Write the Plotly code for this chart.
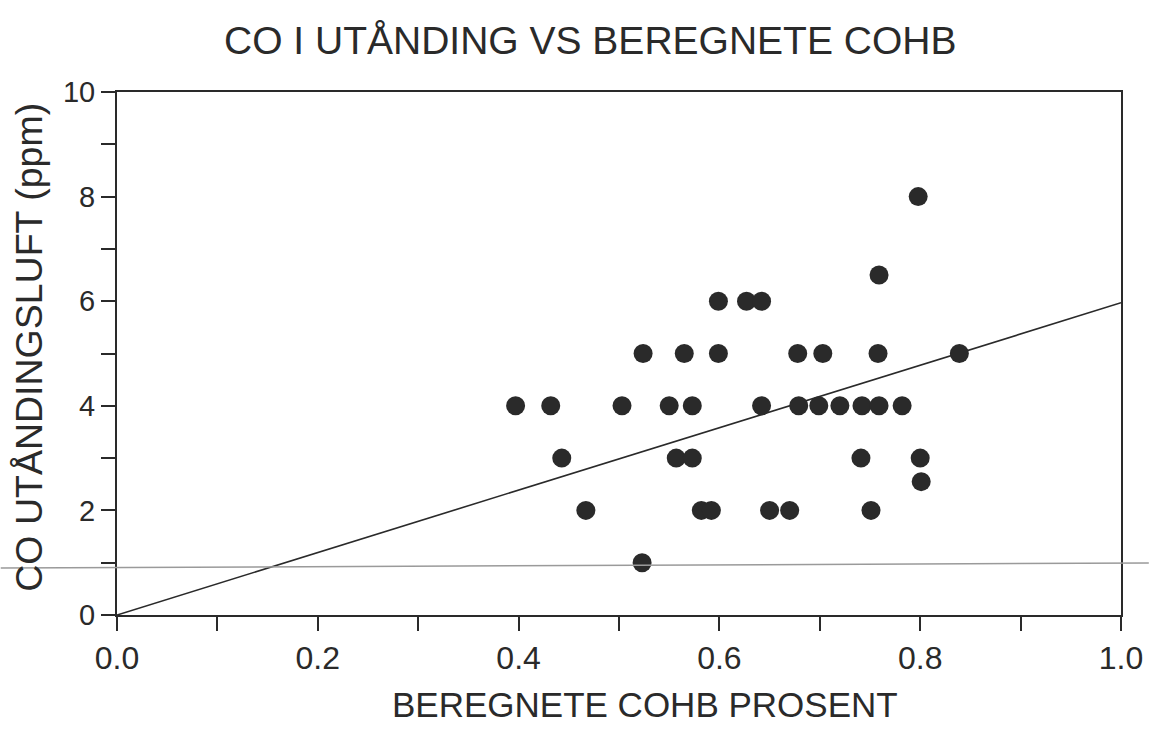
import plotly.graph_objects as go

# Data
cohb_pct = [0.798,
            0.759,
            0.599, 0.627, 0.642,
            0.524, 0.565, 0.599, 0.678, 0.703, 0.758, 0.839,
            0.397, 0.432, 0.503, 0.550, 0.573, 0.642, 0.679, 0.699, 0.720, 0.742, 0.759, 0.782,
            0.443, 0.557, 0.573, 0.741, 0.800,
            0.801,
            0.467, 0.582, 0.592, 0.650, 0.670, 0.751,
            0.523]
co_ppm = [8.0,
          6.5,
          6, 6, 6,
          5, 5, 5, 5, 5, 5, 5,
          4, 4, 4, 4, 4, 4, 4, 4, 4, 4, 4, 4,
          3, 3, 3, 3, 3,
          2.55,
          2, 2, 2, 2, 2, 2,
          1]

fit_x = [0.0, 1.0]
fit_y = [0.0, 5.97]

x_ticks = [0.0, 0.2, 0.4, 0.6, 0.8, 1.0]
x_ticklabels = ["0.0", "0.2", "0.4", "0.6", "0.8", "1.0"]
y_ticks = [0, 2, 4, 6, 8, 10]

title_text = "CO I UTÅNDING VS BEREGNETE COHB"
x_title = "BEREGNETE COHB PROSENT"
y_title = "CO UTÅNDINGSLUFT (ppm)"

ink = "#2a2a2a"
font_family = "Liberation Sans, Arial, sans-serif"

fig = go.Figure()
fig.add_trace(go.Scatter(x=fit_x, y=fit_y, mode="lines",
                         line=dict(color=ink, width=1.6), showlegend=False,
                         cliponaxis=False))
fig.add_trace(go.Scatter(x=cohb_pct, y=co_ppm, mode="markers",
                         marker=dict(size=19, color=ink, line=dict(width=0)),
                         showlegend=False, cliponaxis=False))

# scan artifact: faint horizontal grey line across page
fig.add_shape(type="line", xref="paper", yref="paper",
              x0=-0.1158, x1=1.0277, y0=0.0899, y1=0.0994,
              line=dict(color="#9a9a9a", width=1.5), layer="above")

axis_common = dict(showline=True, linecolor=ink, linewidth=2, mirror=True,
                   showgrid=False, zeroline=False, ticks="outside",
                   ticklen=14, tickwidth=1.6, tickcolor=ink)

fig.update_xaxes(range=[0, 1.0], tickvals=x_ticks, ticktext=x_ticklabels,
                 tickfont=dict(family=font_family, size=32, color=ink),
                 minor=dict(dtick=0.1, ticks="outside", ticklen=14,
                            tickwidth=1.6, tickcolor=ink),
                 **axis_common)
fig.update_yaxes(range=[0, 10], tickvals=y_ticks,
                 tickfont=dict(family=font_family, size=29, color=ink),
                 minor=dict(dtick=1, ticks="outside", ticklen=14,
                            tickwidth=1.6, tickcolor=ink),
                 **axis_common)

fig.add_annotation(text=x_title, xref="paper", yref="paper",
                   x=0.526, y=-0.172, xanchor="center", yanchor="middle",
                   showarrow=False,
                   font=dict(family=font_family, size=35, color=ink))
fig.add_annotation(text=y_title, xref="paper", yref="paper",
                   x=-0.0871, y=0.512, xanchor="center", yanchor="middle",
                   textangle=-90, showarrow=False,
                   font=dict(family=font_family, size=37.5, color=ink))

fig.update_layout(
    width=1155, height=730,
    margin=dict(l=117, r=28, t=92, b=115),
    paper_bgcolor="white", plot_bgcolor="white",
    title=dict(text=title_text, x=0.511, xanchor="center",
               y=0.945, yanchor="middle",
               font=dict(family=font_family, size=39, color=ink)),
)

fig.write_html("out.html")
